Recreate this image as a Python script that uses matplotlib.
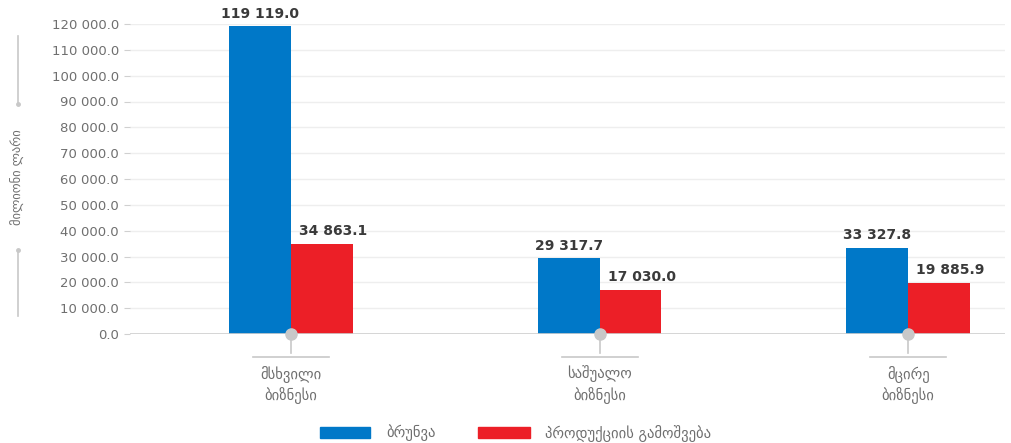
import matplotlib
matplotlib.use("Agg")
import matplotlib.pyplot as plt
from matplotlib.ticker import FuncFormatter
from matplotlib.lines import Line2D
from matplotlib.patches import Rectangle

plt.rcParams['font.family'] = ['DejaVu Sans']

categories = ["მსხვილი\nბიზნესი", "საშუალო\nბიზნესი", "მცირე\nბიზნესი"]
turnover = [119119.0, 29317.7, 33327.8]
production = [34863.1, 17030.0, 19885.9]
series_names = ["ბრუნვა", "პროდუქციის გამოშვება"]
y_label = "მილიონი ლარი"
y_ticks = list(range(0, 120001, 10000))

BLUE = "#0078C8"
RED = "#EC1F27"
GREY_TXT = "#6f6f6f"
DARK_TXT = "#3a3a3a"


def fmt(v):
    return f"{v:,.1f}".replace(",", " ")


fig = plt.figure(figsize=(10.11, 4.43), dpi=100)
W, H = 1011, 443
x0, x1, ytop, ybot = 130, 1005, 24, 334
ax = fig.add_axes([x0 / W, 1 - ybot / H, (x1 - x0) / W, (ybot - ytop) / H])

xs = range(len(categories))
bw = 0.2
ax.bar([x - bw / 2 for x in xs], turnover, width=bw, color=BLUE, zorder=3)
ax.bar([x + bw / 2 for x in xs], production, width=bw, color=RED, zorder=3)

for x, v in zip(xs, turnover):
    ax.annotate(fmt(v), (x - bw / 2, v), xytext=(0, 4), textcoords="offset points",
                ha="center", va="bottom", fontsize=10, fontweight="bold",
                color=DARK_TXT, annotation_clip=False)
for x, v in zip(xs, production):
    ax.annotate(fmt(v), (x + bw / 2, v), xytext=(8, 4), textcoords="offset points",
                ha="center", va="bottom", fontsize=10, fontweight="bold",
                color=DARK_TXT, annotation_clip=False)

ax.set_xlim(-0.522, 2.314)
ax.set_ylim(0, 120000)
ax.set_yticks(y_ticks)
ax.yaxis.set_major_formatter(FuncFormatter(lambda v, p: fmt(v)))
ax.tick_params(axis="y", length=4, color="#d0d0d0", labelcolor=GREY_TXT,
               labelsize=9.5, pad=4)
ax.set_xticks([])
ax.grid(axis="y", color="#eeeeee", linewidth=1, zorder=0)
for s in ax.spines.values():
    s.set_visible(False)
ax.axhline(0, color="#cfcfcf", linewidth=1.2, zorder=4)

# category markers and labels below the baseline
for x, lab in zip(xs, categories):
    ax.plot([x], [0], marker="o", markersize=8, color="#c8c8c8", zorder=5, clip_on=False)
    ax.add_line(Line2D([x, x], [0, -7300], color="#c8c8c8", linewidth=1.2, clip_on=False, zorder=4))
    ax.add_line(Line2D([x - 0.123, x + 0.123], [-8800, -8800], color="#c8c8c8",
                       linewidth=1.2, clip_on=False, zorder=4))
    ax.text(x, -12200, lab, ha="center", va="top", fontsize=10.5, color=GREY_TXT,
            linespacing=1.35, clip_on=False)

# vertical axis title with guide lines
fig.text(18 / W, 1 - 177 / H, y_label, rotation=90, ha="center", va="center",
         fontsize=9, color=GREY_TXT)
fig.add_artist(Line2D([18 / W, 18 / W], [1 - 36 / H, 1 - 104 / H], color="#c8c8c8", linewidth=1.2))
fig.add_artist(Line2D([18 / W, 18 / W], [1 - 250 / H, 1 - 316 / H], color="#c8c8c8", linewidth=1.2))
fig.add_artist(Line2D([18 / W], [1 - 104 / H], marker="o", markersize=2.5, color="#c8c8c8"))
fig.add_artist(Line2D([18 / W], [1 - 250 / H], marker="o", markersize=2.5, color="#c8c8c8"))

# legend
fig.add_artist(Rectangle((320 / W, 1 - 438 / H), 50 / W, 11 / H, color=BLUE, transform=fig.transFigure))
fig.text(386 / W, 1 - 433 / H, series_names[0], ha="left", va="center", fontsize=10.5, color=GREY_TXT)
fig.add_artist(Rectangle((478 / W, 1 - 438 / H), 52 / W, 11 / H, color=RED, transform=fig.transFigure))
fig.text(545 / W, 1 - 433 / H, series_names[1], ha="left", va="center", fontsize=10.5, color=GREY_TXT)

fig.savefig("out.png", dpi=100)
